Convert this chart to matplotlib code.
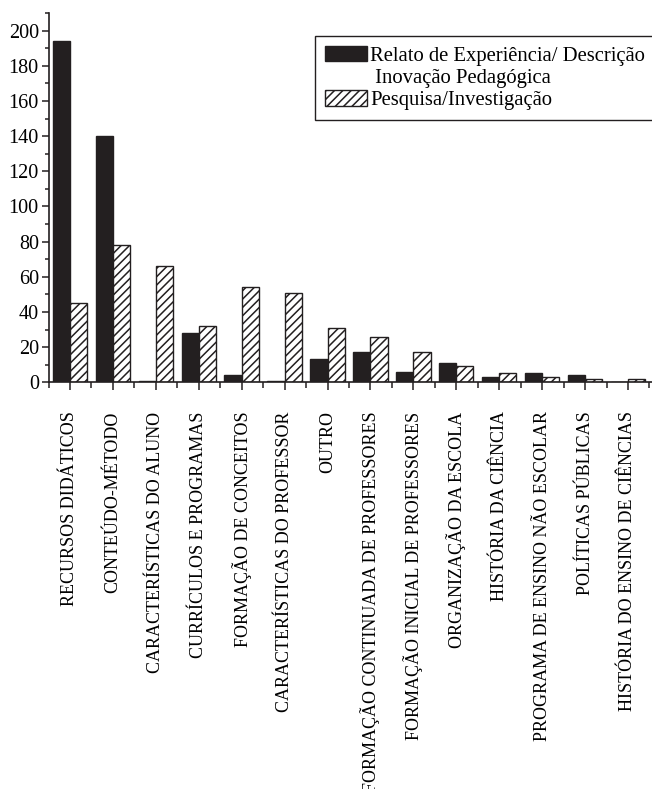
import matplotlib
matplotlib.use("Agg")
import matplotlib.pyplot as plt
import matplotlib.patches as mpatches
from matplotlib.ticker import MultipleLocator, FixedLocator
import numpy as np

plt.rcParams['font.family'] = ['Liberation Serif', 'DejaVu Serif']
plt.rcParams['hatch.linewidth'] = 1.1

# categorias temáticas dos trabalhos
categorias = [
    'RECURSOS DIDÁTICOS',
    'CONTEÚDO-MÉTODO',
    'CARACTERÍSTICAS DO ALUNO',
    'CURRÍCULOS E PROGRAMAS',
    'FORMAÇÃO DE CONCEITOS',
    'CARACTERÍSTICAS DO PROFESSOR',
    'OUTRO',
    'FORMAÇÃO CONTINUADA DE PROFESSORES',
    'FORMAÇÃO INICIAL DE PROFESSORES',
    'ORGANIZAÇÃO DA ESCOLA',
    'HISTÓRIA DA CIÊNCIA',
    'PROGRAMA DE ENSINO NÃO ESCOLAR',
    'POLÍTICAS PÚBLICAS',
    'HISTÓRIA DO ENSINO DE CIÊNCIAS',
]
relato = [194, 140, 1, 28, 4, 1, 13, 17, 6, 11, 3, 5, 4, 0]
pesquisa = [45, 78, 66, 32, 54, 51, 31, 26, 17, 9, 5, 3, 2, 2]

cor = '#231f20'

fig = plt.figure(figsize=(6.52, 7.89), dpi=100)
ax = fig.add_axes([0.0744, 0.5155, 0.9256, 0.468])

x = np.arange(len(categorias))
largura = 0.4
b1 = ax.bar(x - largura / 2, relato, largura, color=cor, edgecolor=cor, linewidth=1)
b2 = ax.bar(x + largura / 2, pesquisa, largura, color='white', edgecolor=cor,
            hatch='////', linewidth=1)

ax.set_xlim(-0.5, 13.56)
ax.set_ylim(0, 210)

ax.set_xticks(x)
ax.set_xticklabels(categorias, rotation=90, fontsize=13)
ax.xaxis.set_minor_locator(FixedLocator(np.arange(-0.5, len(categorias), 1.0)))
ax.yaxis.set_major_locator(MultipleLocator(20))
ax.yaxis.set_minor_locator(MultipleLocator(10))

ax.tick_params(axis='x', which='major', length=6, width=1.1, pad=15, color=cor)
ax.tick_params(axis='x', which='minor', length=4, width=1.1, color=cor)
ax.tick_params(axis='y', which='major', length=5, width=1.1, pad=2,
               labelsize=14.5, color=cor)
ax.tick_params(axis='y', which='minor', length=3, width=1.1, color=cor)

for lado in ['top', 'right']:
    ax.spines[lado].set_visible(False)
for lado in ['left', 'bottom']:
    ax.spines[lado].set_linewidth(1.2)
    ax.spines[lado].set_color(cor)

# a segunda linha do primeiro rótulo fica como entrada sem marcador
vazio = mpatches.Patch(facecolor='none', edgecolor='none')
leg = fig.legend([b1, vazio, b2],
                 ['Relato de Experiência/ Descrição', ' Inovação Pedagógica',
                  'Pesquisa/Investigação'],
                 loc='upper left', bbox_to_anchor=(315 / 652, 1 - 36 / 789),
                 fontsize=14.9, frameon=True, fancybox=False, framealpha=1,
                 edgecolor=cor, handlelength=2.05, handleheight=0.75,
                 handletextpad=0.15, labelspacing=0.12, borderpad=0.48,
                 borderaxespad=0)
leg.get_frame().set_linewidth(1.0)

fig.savefig('out.png', dpi=100)
